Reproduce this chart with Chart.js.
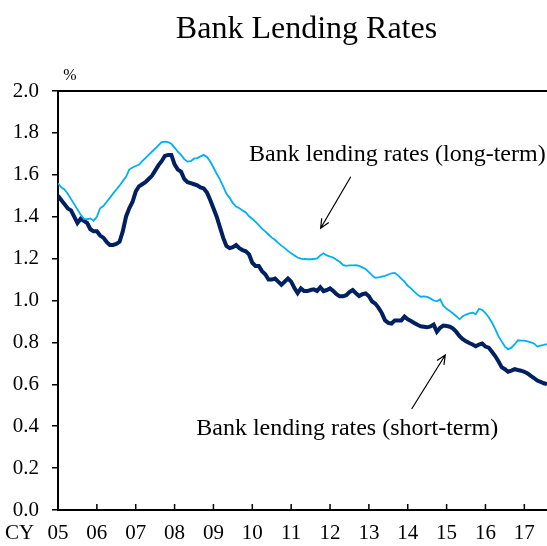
<!DOCTYPE html>
<html>
<head>
<meta charset="utf-8">
<script src="https://cdn.jsdelivr.net/npm/chart.js@4/dist/chart.umd.min.js"></script>
<style>
  body { margin: 0; background: #fff; }
</style>
</head>
<body>
<canvas id="lendingRates" width="547" height="546"></canvas>
<script>
// monthly series, Jan 2005 .. Aug 2017 (%)
const yearTicks = ['05', '06', '07', '08', '09', '10', '11', '12', '13', '14', '15', '16', '17'];

const shortTerm = [
    1.50, 1.48, 1.46, 1.44, 1.43, 1.40, 1.37, 1.39, 1.38, 1.37, 1.34, 1.33,
    1.33, 1.31, 1.30, 1.28, 1.265, 1.265, 1.27, 1.28, 1.33, 1.40, 1.44, 1.47,
    1.52, 1.545, 1.555, 1.565, 1.58, 1.595, 1.62, 1.645, 1.665, 1.69, 1.695, 1.695,
    1.65, 1.625, 1.615, 1.58, 1.565, 1.56, 1.555, 1.55, 1.54, 1.535, 1.515, 1.48,
    1.44, 1.40, 1.35, 1.30, 1.26, 1.25, 1.255, 1.265, 1.25, 1.24, 1.235, 1.22,
    1.18, 1.165, 1.165, 1.14, 1.125, 1.10, 1.10, 1.105, 1.09, 1.075, 1.09, 1.105,
    1.09, 1.06, 1.035, 1.058, 1.045, 1.045, 1.05, 1.053, 1.045, 1.063, 1.045, 1.05,
    1.058, 1.045, 1.03, 1.02, 1.02, 1.025, 1.04, 1.05, 1.035, 1.021, 1.03, 1.034,
    1.02, 0.995, 0.985, 0.965, 0.94, 0.905, 0.893, 0.89, 0.905, 0.905, 0.905, 0.923,
    0.91, 0.902, 0.893, 0.884, 0.877, 0.875, 0.872, 0.876, 0.885, 0.851, 0.87, 0.88,
    0.878, 0.875, 0.866, 0.85, 0.83, 0.815, 0.805, 0.797, 0.79, 0.782, 0.79, 0.795,
    0.78, 0.775, 0.755, 0.735, 0.71, 0.682, 0.672, 0.66, 0.665, 0.672, 0.668, 0.665,
    0.66, 0.652, 0.64, 0.63, 0.618, 0.612, 0.605, 0.601
];

const longTerm = [
    1.56, 1.54, 1.53, 1.51, 1.485, 1.46, 1.435, 1.41, 1.39, 1.388, 1.392, 1.381,
    1.40, 1.44, 1.451, 1.47, 1.49, 1.51, 1.53, 1.548, 1.57, 1.59, 1.625, 1.635,
    1.642, 1.648, 1.665, 1.68, 1.695, 1.71, 1.725, 1.74, 1.756, 1.758, 1.756, 1.748,
    1.73, 1.71, 1.695, 1.675, 1.663, 1.665, 1.677, 1.68, 1.688, 1.695, 1.685, 1.663,
    1.635, 1.605, 1.578, 1.545, 1.51, 1.49, 1.465, 1.448, 1.44, 1.43, 1.42, 1.402,
    1.39, 1.375, 1.36, 1.343, 1.33, 1.315, 1.30, 1.29, 1.275, 1.262, 1.25, 1.237,
    1.225, 1.215, 1.205, 1.20, 1.198, 1.197, 1.197, 1.198, 1.201, 1.215, 1.225, 1.215,
    1.21, 1.205, 1.195, 1.185, 1.17, 1.165, 1.168, 1.168, 1.169, 1.165, 1.158, 1.15,
    1.135, 1.12, 1.108, 1.11, 1.114, 1.118, 1.124, 1.13, 1.132, 1.12, 1.104, 1.09,
    1.07, 1.058, 1.042, 1.028, 1.018, 1.02, 1.017, 1.01, 1.0, 0.996, 1.006, 0.975,
    0.96, 0.95, 0.938, 0.925, 0.91, 0.925, 0.933, 0.938, 0.942, 0.935, 0.96, 0.955,
    0.94, 0.92, 0.895, 0.865, 0.83, 0.805, 0.78, 0.767, 0.775, 0.79, 0.81, 0.808,
    0.808, 0.805, 0.80, 0.795, 0.78, 0.785, 0.788, 0.792
];

const serif = '"Liberation Serif", "Times New Roman", serif';

function arrow(ctx, x1, y1, x2, y2) {
    const a = Math.atan2(y2 - y1, x2 - x1);
    const len = 10, spread = 0.42;
    ctx.beginPath();
    ctx.moveTo(x1, y1);
    ctx.lineTo(x2, y2);
    ctx.moveTo(x2 - len * Math.cos(a - spread), y2 - len * Math.sin(a - spread));
    ctx.lineTo(x2, y2);
    ctx.lineTo(x2 - len * Math.cos(a + spread), y2 - len * Math.sin(a + spread));
    ctx.stroke();
}

// title, unit, frame, inner ticks and the two callouts
const decorations = {
    id: 'decorations',
    afterDraw(chart) {
        const ctx = chart.ctx;
        const area = chart.chartArea;
        const x = chart.scales.x, y = chart.scales.y;
        ctx.save();
        ctx.fillStyle = '#000';
        ctx.strokeStyle = '#000';

        ctx.font = '32px ' + serif;
        ctx.textAlign = 'center';
        ctx.textBaseline = 'alphabetic';
        ctx.fillText('Bank Lending Rates', (area.left + area.right) / 2 + 4, 38);

        ctx.font = '16px ' + serif;
        ctx.fillText('%', area.left + 12, 80);

        ctx.lineWidth = 2;
        ctx.beginPath();
        ctx.moveTo(area.left, area.top);
        ctx.lineTo(area.right, area.top);
        ctx.stroke();

        ctx.lineWidth = 1.5;
        x.ticks.forEach(t => {
            const px = x.getPixelForValue(t.value);
            ctx.beginPath();
            ctx.moveTo(px, area.bottom);
            ctx.lineTo(px, area.bottom - 6);
            ctx.stroke();
        });

        ctx.font = '21px ' + serif;
        ctx.textAlign = 'left';
        ctx.textBaseline = 'middle';
        ctx.fillText('CY', 5, 533);

        ctx.font = '24px ' + serif;
        ctx.textAlign = 'center';
        ctx.textBaseline = 'alphabetic';
        ctx.fillText('Bank lending rates (long-term)', x.getPixelForValue(104.8), y.getPixelForValue(1.666));
        ctx.fillText('Bank lending rates (short-term)', x.getPixelForValue(89.3), y.getPixelForValue(0.358));

        ctx.lineWidth = 1.2;
        arrow(ctx, x.getPixelForValue(90.4), y.getPixelForValue(1.591), x.getPixelForValue(81.1), y.getPixelForValue(1.345));
        arrow(ctx, x.getPixelForValue(109.2), y.getPixelForValue(0.482), x.getPixelForValue(119.6), y.getPixelForValue(0.74));
        ctx.restore();
    }
};

const ctx = document.getElementById('lendingRates').getContext('2d');
const lendingChart = new Chart(ctx, {
    type: 'line',
    data: {
        datasets: [{
            label: 'Bank lending rates (long-term)',
            data: longTerm.map((v, i) => ({ x: i, y: v })),
            borderColor: '#00B0F0',
            borderWidth: 1.8,
            pointRadius: 0,
            tension: 0
        }, {
            label: 'Bank lending rates (short-term)',
            data: shortTerm.map((v, i) => ({ x: i, y: v })),
            borderColor: '#002060',
            borderWidth: 4,
            pointRadius: 0,
            tension: 0
        }]
    },
    options: {
        responsive: false,
        animation: false,
        layout: {
            padding: { top: 91, right: 0, bottom: 0, left: 0 }
        },
        plugins: {
            legend: { display: false },
            tooltip: { enabled: false }
        },
        scales: {
            x: {
                type: 'linear',
                min: 0,
                max: longTerm.length - 1,
                afterFit: s => { s.height = 36; },
                ticks: {
                    stepSize: 12,
                    includeBounds: false,
                    maxRotation: 0,
                    autoSkip: false,
                    padding: 11,
                    color: '#000',
                    font: { family: serif, size: 21 },
                    callback: v => yearTicks[v / 12]
                },
                grid: { drawOnChartArea: false, drawTicks: false },
                border: { color: '#000', width: 2 }
            },
            y: {
                min: 0,
                max: 2,
                afterFit: s => { s.width = 58; },
                ticks: {
                    stepSize: 0.2,
                    padding: 13,
                    color: '#000',
                    font: { family: serif, size: 21 },
                    callback: v => v.toFixed(1)
                },
                grid: { drawOnChartArea: false, tickLength: 6, color: '#000', lineWidth: 1.5 },
                border: { color: '#000', width: 2 }
            }
        }
    },
    plugins: [decorations]
});
</script>
</body>
</html>
